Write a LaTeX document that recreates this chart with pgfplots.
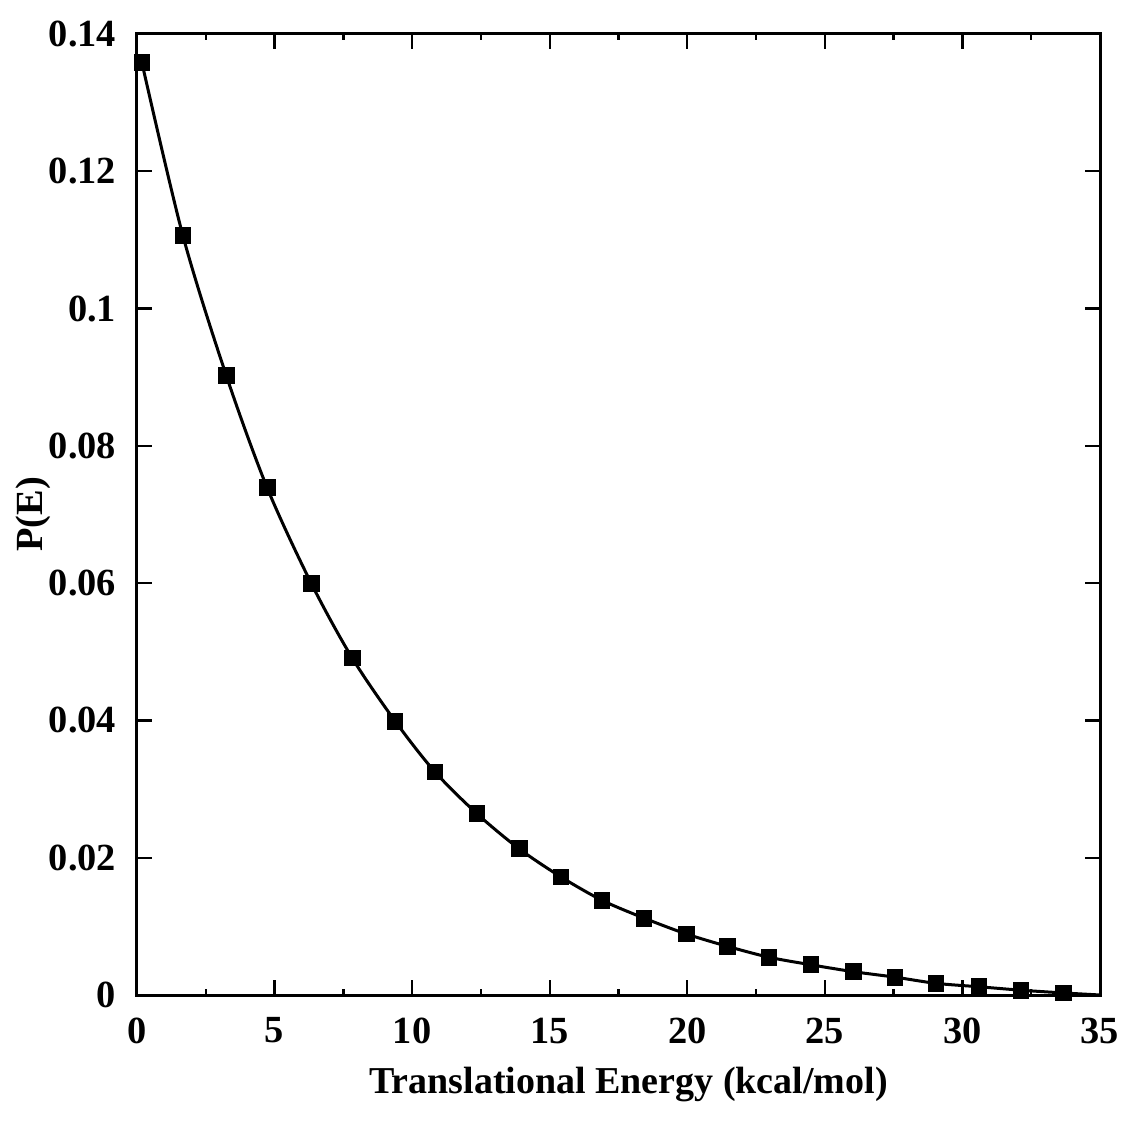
\documentclass[border=0pt]{standalone}
\usepackage{pgfplots}
\pgfplotsset{compat=1.18}
\usepackage{fontspec}
\setmainfont{Liberation Serif}
\pgfplotstableread{
x y
0.18 0.1358
1.67 0.1106
3.24 0.0903
4.73 0.0739
6.33 0.0600
7.82 0.0491
9.38 0.0399
10.83 0.0325
12.36 0.0264
13.89 0.0213
15.41 0.0172
16.90 0.0138
18.43 0.0112
19.96 0.0089
21.45 0.0071
22.97 0.0055
24.50 0.0044
26.03 0.0034
27.55 0.0026
29.04 0.0017
30.60 0.0012
32.13 0.0007
33.66 0.0003
}\pedata
\begin{document}
\begin{tikzpicture}
\begin{axis}[
  scale only axis,
  width=240.75pt, height=240.25pt,
  xmin=0, xmax=35, ymin=0, ymax=0.14,
  axis line style={line width=0.75pt},
  xtick={0,5,...,35},
  minor x tick num=1,
  ytick={0,0.02,...,0.14},
  yticklabels={0,0.02,0.04,0.06,0.08,0.1,0.12,0.14},
  tick align=inside,
  tick pos=both,
  major tick length=3.8pt,
  minor tick length=1.4pt,
  every tick/.style={black, line width=0.6pt},
  font=\bfseries\fontsize{9.6}{11.5}\selectfont,
  /pgf/number format/assume math mode=true,
  xticklabel style={inner sep=0pt, yshift=-5.5pt},
  yticklabel style={inner sep=0pt, xshift=-5pt},
  xlabel={Translational Energy (kcal/mol)},
  ylabel={P(E)},
  xlabel style={at={(axis description cs:0.5,0)}, anchor=base, yshift=-24.5pt, xshift=2.5pt, font=\bfseries\fontsize{9.5}{11}\selectfont},
  ylabel style={at={(axis description cs:-0.098,0.5)}, anchor=base},
]
\addplot[black, line width=0.75pt, smooth, no marks] table[x=x,y=y] {\pedata};
\addplot[black, line width=0.75pt, no marks] coordinates {(33.66,0.0003) (35,0)};
\addplot[only marks, mark=square*, mark size=1.9pt, black] table[x=x,y=y] {\pedata};
\coordinate (O) at (rel axis cs:0,0);
\end{axis}
\pgfresetboundingbox
\path (O) ++(-34.25pt,-32.25pt) rectangle ++(281pt,281pt);
\end{tikzpicture}
\end{document}
